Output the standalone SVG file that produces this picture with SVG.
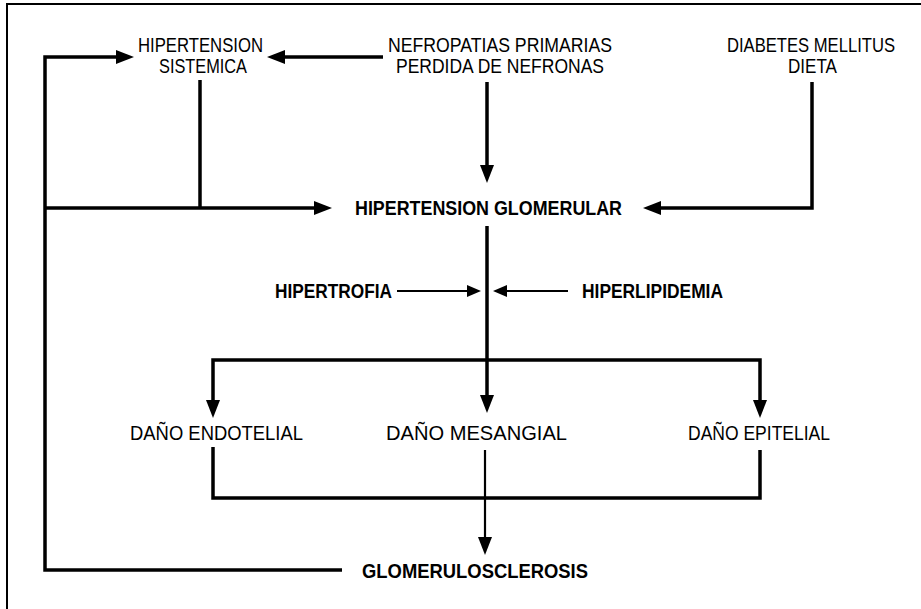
<svg xmlns="http://www.w3.org/2000/svg" width="921" height="609" viewBox="0 0 921 609">
<style>
  .t { font-family: "Liberation Sans", Arial, sans-serif; font-size: 21px; fill: #000; text-anchor: middle; }
  .b { font-weight: bold; }
  .c { fill: none; stroke: #000; stroke-width: 3.5; stroke-linejoin: miter; }
  .thin { stroke-width: 2.2; }
  .frame { fill: none; stroke: #000; stroke-width: 2; }
</style>
<defs>
  <marker id="ah" markerUnits="userSpaceOnUse" viewBox="0 0 18 14" markerWidth="18" markerHeight="14" refX="10" refY="7" orient="auto">
    <path d="M0,0 L18,7 L0,14 z" fill="#000"/>
  </marker>
  <marker id="as" markerUnits="userSpaceOnUse" viewBox="0 0 14 12" markerWidth="14" markerHeight="12" refX="8" refY="6" orient="auto">
    <path d="M0,0 L14,6 L0,12 z" fill="#000"/>
  </marker>
</defs>
<rect width="921" height="609" fill="#fff"/>
<path class="frame" d="M7,609 V4 H921"/>

<g id="connectors">
  <path class="c" d="M342,570 H45 V57 H126" marker-end="url(#ah)"/>
  <path class="c" d="M383,57 H275" marker-end="url(#ah)"/>
  <path class="c" d="M200,80 V208"/>
  <path class="c" d="M45,208 H324" marker-end="url(#ah)"/>
  <path class="c" d="M487,82 V175" marker-end="url(#ah)"/>
  <path class="c" d="M812,82 V208 H651" marker-end="url(#ah)"/>
  <path class="c" d="M487,226 V405" marker-end="url(#ah)"/>
  <path class="c" d="M487,360 H213 V410" marker-end="url(#ah)"/>
  <path class="c" d="M487,360 H760 V410" marker-end="url(#ah)"/>
  <path class="c thin" d="M397,291 H475" marker-end="url(#as)"/>
  <path class="c thin" d="M568,291 H499" marker-end="url(#as)"/>
  <path class="c" d="M213,447 V498 H760 V450"/>
  <path class="c thin" d="M485,450 V547" marker-end="url(#ah)"/>
</g>

<g id="hipertension-sistemica">
  <text class="t" x="200.5" y="52" textLength="125" lengthAdjust="spacingAndGlyphs">HIPERTENSION</text>
  <text class="t" x="203" y="73" textLength="88" lengthAdjust="spacingAndGlyphs">SISTEMICA</text>
</g>
<g id="nefropatias">
  <text class="t" x="500" y="52" textLength="224" lengthAdjust="spacingAndGlyphs">NEFROPATIAS PRIMARIAS</text>
  <text class="t" x="500" y="73" textLength="208" lengthAdjust="spacingAndGlyphs">PERDIDA DE NEFRONAS</text>
</g>
<g id="diabetes">
  <text class="t" x="811" y="52" textLength="168" lengthAdjust="spacingAndGlyphs">DIABETES MELLITUS</text>
  <text class="t" x="812.5" y="73" textLength="49" lengthAdjust="spacingAndGlyphs">DIETA</text>
</g>
<g id="hipertension-glomerular">
  <text class="t b" x="488.5" y="215" textLength="267" lengthAdjust="spacingAndGlyphs">HIPERTENSION GLOMERULAR</text>
</g>
<g id="hipertrofia">
  <text class="t b" x="333.5" y="298" textLength="117" lengthAdjust="spacingAndGlyphs">HIPERTROFIA</text>
</g>
<g id="hiperlipidemia">
  <text class="t b" x="652.5" y="298" textLength="141" lengthAdjust="spacingAndGlyphs">HIPERLIPIDEMIA</text>
</g>
<g id="dano-endotelial">
  <text class="t" x="216.5" y="440" textLength="173" lengthAdjust="spacingAndGlyphs">DAÑO ENDOTELIAL</text>
</g>
<g id="dano-mesangial">
  <text class="t" x="476.5" y="440" textLength="181" lengthAdjust="spacingAndGlyphs">DAÑO MESANGIAL</text>
</g>
<g id="dano-epitelial">
  <text class="t" x="759" y="440" textLength="142" lengthAdjust="spacingAndGlyphs">DAÑO EPITELIAL</text>
</g>
<g id="glomerulosclerosis">
  <text class="t b" x="475" y="578" textLength="226" lengthAdjust="spacingAndGlyphs">GLOMERULOSCLEROSIS</text>
</g>
</svg>
